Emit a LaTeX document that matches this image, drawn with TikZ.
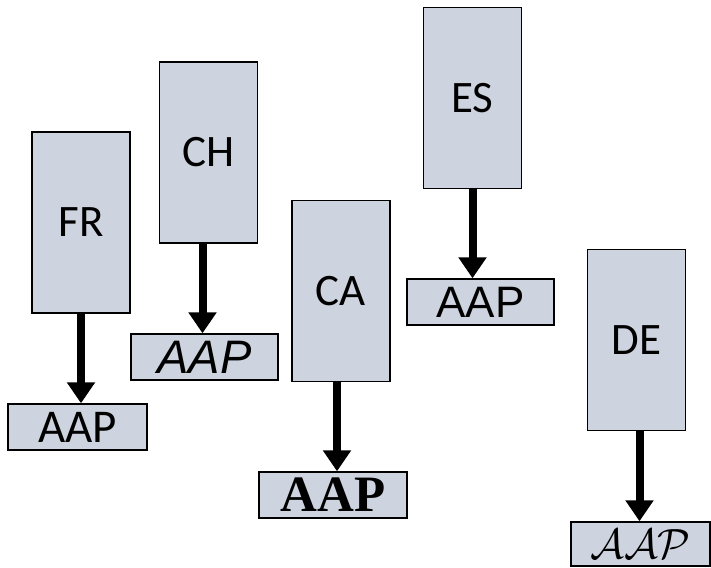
\documentclass[tikz,border=0pt]{standalone}
\usepackage{graphicx}
\usepackage{fontspec}
\setmainfont{Carlito}
\newfontfamily\arialfont{Liberation Sans}
\newfontfamily\timesfont{Liberation Serif}
\usetikzlibrary{arrows.meta}
\definecolor{boxgray}{RGB}{205,211,223}

\begin{document}
\begin{tikzpicture}[x=1pt,y=-1pt,
    box/.style={draw=black,fill=boxgray,line width=1.4pt,inner sep=0pt,
        minimum width=98pt,minimum height=181pt,font=\fontsize{45}{45}\selectfont},
    aapbox/.style={draw=black,fill=boxgray,line width=1.4pt,inner sep=0pt,
        minimum height=46pt},
    arr/.style={line width=8pt,-{Triangle[width=27pt,length=21pt]}}]
    \useasboundingbox (0,0) rectangle (711,567);
    % country boxes
    \node[box] (fr) at (81,222.5) {FR};
    \node[box] (ch) at (208.5,152.5) {CH};
    \node[box] (ca) at (341,291) {CA};
    \node[box] (es) at (472.5,98) {ES};
    \node[box] (de) at (636.5,340) {DE};
    % AAP boxes, each in its own font
    \node[aapbox,minimum width=139pt,font=\fontsize{47}{47}\selectfont] (fraap) at (77.5,427) {AAP};
    \node[aapbox,minimum width=147pt,font=\arialfont\itshape\fontsize{47}{47}\selectfont] (chaap) at (204.5,357) {AAP};
    \node[aapbox,minimum width=148pt,font=\timesfont\bfseries\fontsize{51}{51}\selectfont] (caaap) at (333,495) {AAP};
    \node[aapbox,minimum width=147pt,font=\arialfont\fontsize{44}{44}\selectfont] (esaap) at (480.5,302) {AAP};
    \node[aapbox,minimum width=139pt,minimum height=44pt,font=\fontsize{24.88}{24.88}\selectfont] (deaap) at (640.5,544) {\scalebox{1.7}{$\mathcal{AAP}$}};
    % arrows
    \draw[arr] (fr.south) -- (fr.south |- fraap.north);
    \draw[arr] (ch.south) ++(-6,0) coordinate (chs) -- (chs |- chaap.north);
    \draw[arr] (ca.south) ++(-4,0) coordinate (cas) -- (cas |- caaap.north);
    \draw[arr] (es.south) -- (es.south |- esaap.north);
    \draw[arr] (de.south) ++(3,0) coordinate (des) -- (des |- deaap.north);
\end{tikzpicture}
\end{document}
